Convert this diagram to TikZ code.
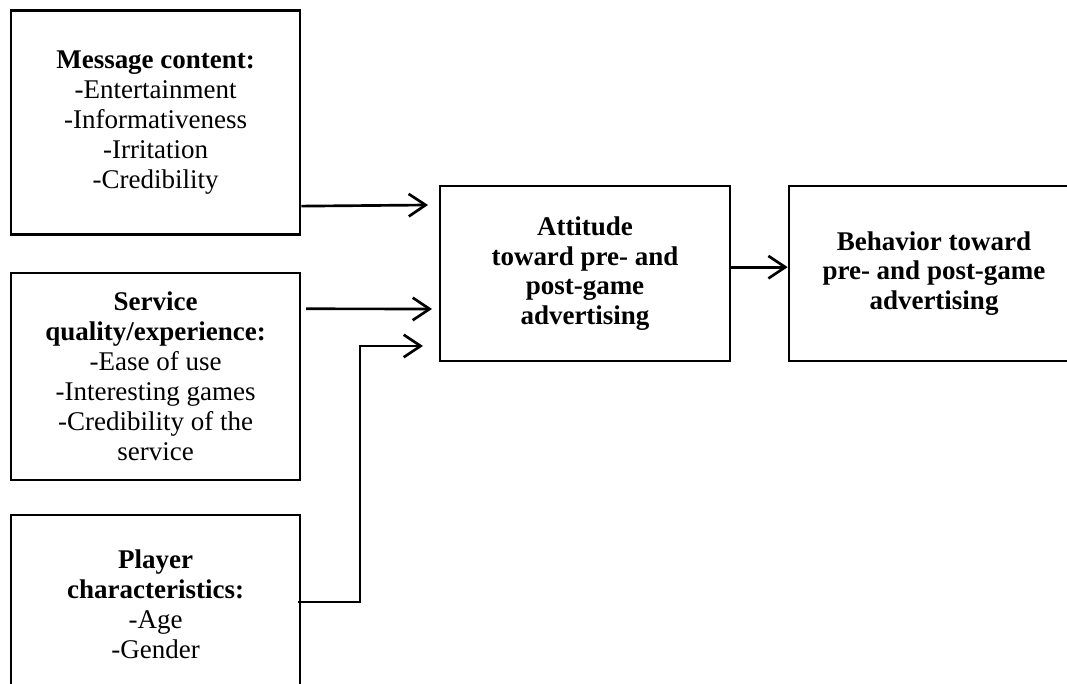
\documentclass[tikz,border=0pt]{standalone}
\usepackage{fontspec}
\setmainfont{Liberation Serif}
\usetikzlibrary{arrows.meta}
\tikzset{
	factor/.style={draw, line width=1.9pt, align=center, inner sep=0pt},
	link/.style={line width=1.9pt, -{Straight Barb[length=12pt,width=16pt,line width=1.9pt]}}
}
\begin{document}
\begin{tikzpicture}[font=\fontsize{19.2}{21.3}\selectfont, line join=miter]
	\useasboundingbox (0,0) rectangle (26.675,17.1);
	\clip (0,0) rectangle (26.675,17.1);
	% factors on the left
	\node[factor, minimum width=7.225cm, minimum height=5.6cm] (msg) at (3.89,14.03) {\textbf{Message content:}\\-Entertainment\\-Informativeness\\-Irritation\\-Credibility};
	\node[factor, minimum width=7.225cm, minimum height=5.175cm] (svc) at (3.89,7.69) {\textbf{Service}\\\textbf{quality/experience:}\\-Ease of use\\-Interesting games\\-Credibility of the\\service};
	\node[factor, minimum width=7.225cm, minimum height=4.45cm] (ply) at (3.89,2.0) {\textbf{Player}\\\textbf{characteristics:}\\-Age\\-Gender};
	% outcomes
	\node[factor, minimum width=7.25cm, minimum height=4.375cm] (att) at (14.625,10.26) {\textbf{Attitude}\\\textbf{toward pre- and}\\\textbf{post-game}\\\textbf{advertising}};
	\node[factor, minimum width=7.25cm, minimum height=4.375cm] (beh) at (23.35,10.26) {\textbf{Behavior toward}\\\textbf{pre- and post-game}\\\textbf{advertising}};
	% arrow ends
	\coordinate (in1) at (10.7,11.975);
	\coordinate (in2) at (10.8,9.375);
	\coordinate (in3) at (10.575,8.45);
	\draw[link] ([yshift=0.75cm]msg.south east) -- (in1);
	\draw[link] ([xshift=0.12cm,yshift=1.69cm]svc.east) -- (in2);
	\draw[link] ([xshift=-0.08cm,yshift=0.05cm]ply.east) -| ([xshift=-1.575cm]in3) -- (in3);
	\draw[link] ([yshift=0.16cm]att.east) -- ([yshift=0.16cm]beh.west);
\end{tikzpicture}
\end{document}
